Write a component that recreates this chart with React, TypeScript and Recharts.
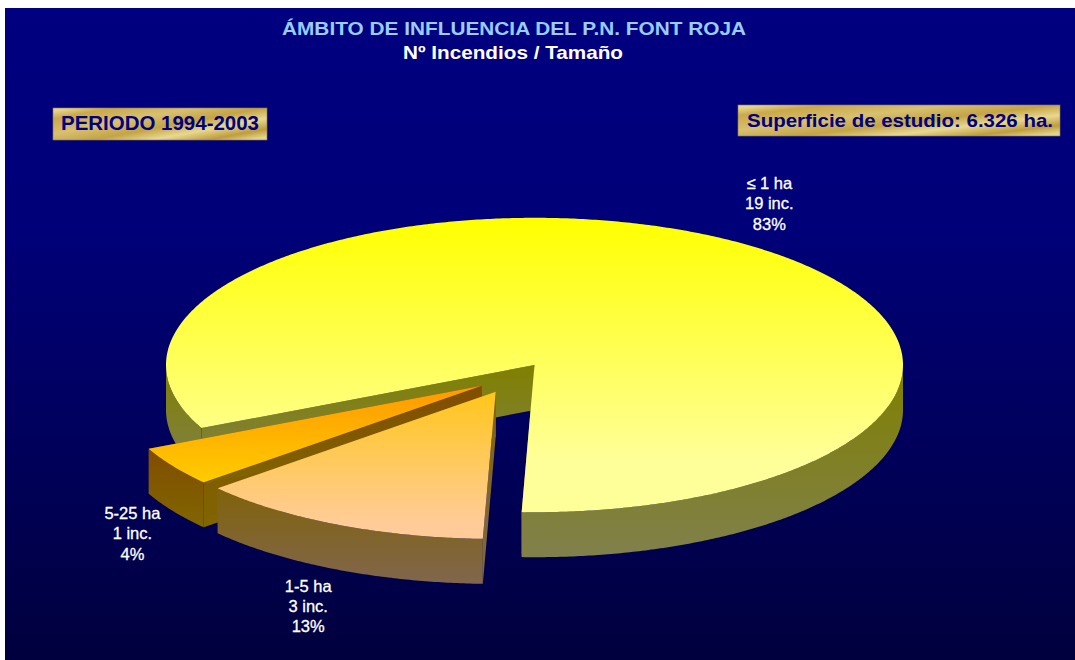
import React from "react";
import { PieChart, Pie } from "recharts";

const categories = ["≤ 1 ha", "5-25 ha", "1-5 ha"];
const incidents = [19, 1, 3];
const incidentLabels = ["19 inc.", "1 inc.", "3 inc."];
const percentLabels = ["83%", "4%", "13%"];

const titleText = "ÁMBITO DE INFLUENCIA DEL P.N. FONT ROJA";
const subtitleText = "Nº Incendios / Tamaño";
const periodText = "PERIODO 1994-2003";
const surfaceText = "Superficie de estudio: 6.326 ha.";

const W = 1075;
const H = 660;
const CX = 534.5;
const CY = 365;
const RX = 368.5;
const TILT = 147 / 368;
const DEPTH = 45;
const FONT = '"Liberation Sans", Arial, sans-serif';

const chartData = categories.map((name, i) => ({ name, value: incidents[i], sliceIndex: i }));

const explode = [
  { dx: 0, dy: 0 },
  { dx: -52.8, dy: 20.7 },
  { dx: -38.8, dy: 26.7 },
];
const labelShift = [
  { dx: 32.5, dy: -53 },
  { dx: -41, dy: 52.7 },
  { dx: -29, dy: 67 },
];
const topStops = [
  ["#ffff00", "#ffff99", "82%"],
  ["#ff9900", "#ffcc00", "100%"],
  ["#ffc61a", "#ffcc99", "90%"],
];
const wallStops = [
  ["#808000", "#80804d"],
  ["#804d00", "#806600"],
  ["#80630a", "#80664d"],
];

type Pt = [number, number];

function arc(cx: number, cy: number, r: number, from: number, to: number): Pt[] {
  const steps = Math.max(2, Math.ceil(Math.abs(to - from) * 2));
  const pts: Pt[] = [];
  for (let i = 0; i <= steps; i++) {
    const t = ((from + ((to - from) * i) / steps) * Math.PI) / 180;
    pts.push([cx + r * Math.cos(t), cy + r * TILT * Math.sin(t)]);
  }
  return pts;
}

function toPath(pts: Pt[]): string {
  return "M" + pts.map((p) => `${p[0].toFixed(2)},${p[1].toFixed(2)}`).join("L") + "Z";
}

function Slice3D(props: any) {
  const { cx, cy, outerRadius: r, startAngle, endAngle } = props;
  const i: number = props.payload?.sliceIndex ?? props.sliceIndex ?? 0;
  const ax = cx + explode[i].dx;
  const ay = cy + explode[i].dy;
  const a = -Math.max(startAngle, endAngle);
  const b = -Math.min(startAngle, endAngle);
  const lo = Math.min(a, b);
  const hi = Math.max(a, b);
  const rim = arc(ax, ay, r, lo, hi);
  const down = (p: Pt): Pt => [p[0], p[1] + DEPTH];
  const first = rim[0];
  const last = rim[rim.length - 1];
  const apex: Pt = [ax, ay];
  const faces = [first, last].map((e) => toPath([apex, e, down(e), down(apex)]));
  const walls: string[] = [];
  for (let k = -3; k <= 3; k++) {
    const s = Math.max(lo, 360 * k);
    const t = Math.min(hi, 180 + 360 * k);
    if (t > s) {
      const top = arc(ax, ay, r, s, t);
      walls.push(toPath([...top, ...top.slice().reverse().map(down)]));
    }
  }
  return (
    <g>
      {faces.map((d, n) => (
        <path key={"f" + n} d={d} fill={`url(#wall${i})`} />
      ))}
      {walls.map((d, n) => (
        <path key={"w" + n} d={d} fill={`url(#wall${i})`} />
      ))}
      <path d={toPath([apex, ...rim])} fill={`url(#top${i})`} />
    </g>
  );
}

function SliceLabel(props: any) {
  const { cx, cy, midAngle, outerRadius: r } = props;
  const i: number = props.payload?.sliceIndex ?? props.sliceIndex ?? 0;
  const t = (-midAngle * Math.PI) / 180;
  const x = cx + explode[i].dx + r * Math.cos(t) + labelShift[i].dx;
  const y = cy + explode[i].dy + r * TILT * Math.sin(t) + labelShift[i].dy;
  const lines = [categories[i], incidentLabels[i], percentLabels[i]];
  return (
    <text x={x} y={y} textAnchor="middle" fill="#ffffff" fontFamily={FONT} fontSize={16.5} stroke="#ffffff" strokeWidth={0.3}>
      {lines.map((l, n) => (
        <tspan key={n} x={x} dy={n === 0 ? 0 : 20.3}>
          {l}
        </tspan>
      ))}
    </text>
  );
}

function GoldBox({ x, y, w, h, text, tx, tw, size, lift }: any) {
  return (
    <g>
      <rect x={x} y={y} width={w} height={h} fill="url(#gold)" stroke="#8a7a50" strokeWidth={0.6} />
      <text
        x={tx}
        y={y + h / 2 + size * 0.36 - lift}
        fill="#000080"
        fontFamily={FONT}
        fontWeight="bold"
        fontSize={size}
        textLength={tw}
        lengthAdjust="spacingAndGlyphs"
      >
        {text}
      </text>
    </g>
  );
}

export default function App() {
  return (
    <div style={{ position: "absolute", left: 0, top: 0, width: W, height: H, background: "#ffffff", overflow: "hidden" }}>
      <PieChart width={W} height={H} margin={{ top: 0, right: 0, bottom: 0, left: 0 }}>
        <defs>
          <linearGradient id="bg" x1="0" y1="0" x2="0" y2="1">
            <stop offset="0%" stopColor="#000080" />
            <stop offset="35%" stopColor="#000078" />
            <stop offset="100%" stopColor="#00003e" />
          </linearGradient>
          <linearGradient id="gold" x1="0" y1="0.1" x2="1" y2="0.9">
            <stop offset="0%" stopColor="#e6d68c" />
            <stop offset="12%" stopColor="#c9a94a" />
            <stop offset="35%" stopColor="#d8c070" />
            <stop offset="55%" stopColor="#c4a445" />
            <stop offset="72%" stopColor="#e8d890" />
            <stop offset="88%" stopColor="#bf9d3c" />
            <stop offset="100%" stopColor="#e4d48a" />
          </linearGradient>
          {topStops.map((s, i) => (
            <linearGradient key={"t" + i} id={`top${i}`} x1="0" y1="0" x2="0" y2="1">
              <stop offset="0%" stopColor={s[0]} />
              <stop offset={s[2]} stopColor={s[1]} />
            </linearGradient>
          ))}
          {wallStops.map((s, i) => (
            <linearGradient key={"w" + i} id={`wall${i}`} x1="0" y1="0" x2="0" y2="1">
              <stop offset="0%" stopColor={s[0]} />
              <stop offset="100%" stopColor={s[1]} />
            </linearGradient>
          ))}
        </defs>
        <rect x={5} y={8} width={W - 5} height={H - 8} fill="url(#bg)" />
        <text x={514} y={35} textAnchor="middle" fill="#99ccff" fontFamily={FONT} fontWeight="bold" fontSize={19} textLength={464} lengthAdjust="spacingAndGlyphs">
          {titleText}
        </text>
        <text x={513} y={59} textAnchor="middle" fill="#ffffff" fontFamily={FONT} fontWeight="bold" fontSize={18.5} textLength={220} lengthAdjust="spacingAndGlyphs">
          {subtitleText}
        </text>
        <GoldBox x={53} y={108} w={214} h={32} text={periodText} tx={61} tw={198} size={19.5} lift={1} />
        <GoldBox x={738} y={105} w={322} h={31} text={surfaceText} tx={747} tw={306} size={19} lift={0} />
        <Pie
          data={chartData}
          dataKey="value"
          nameKey="name"
          cx={CX}
          cy={CY}
          innerRadius={0}
          outerRadius={RX}
          startAngle={-452}
          endAngle={-92}
          stroke="none"
          shape={Slice3D}
          label={SliceLabel}
          labelLine={false}
          isAnimationActive={false}
        />
      </PieChart>
    </div>
  );
}
